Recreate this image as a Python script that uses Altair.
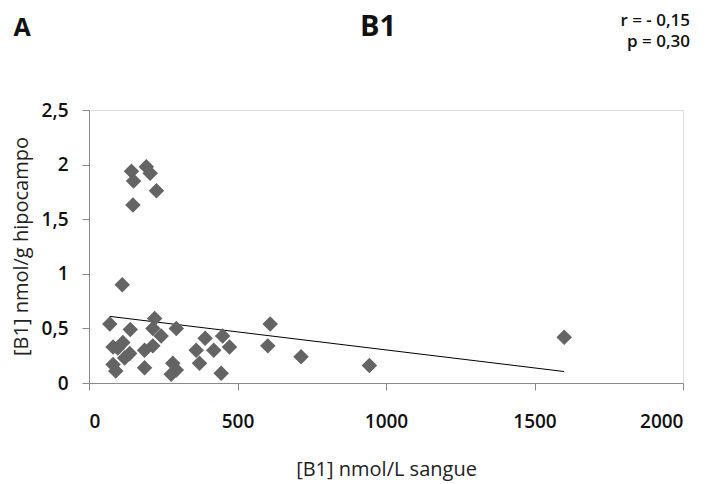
import altair as alt
import pandas as pd

# Scatter points: [B1] blood (nmol/L) vs [B1] hippocampus (nmol/g)
sangue = [70, 143, 150, 193, 206, 227, 148, 112, 139, 221, 215, 294, 243,
          81, 97, 114, 137, 120, 187, 215, 81, 90, 187, 282, 294, 277,
          361, 391, 420, 372, 450, 473, 445, 610, 602, 714, 944, 1600]
hipocampo = [0.54, 1.94, 1.85, 1.98, 1.92, 1.76, 1.63, 0.90, 0.49, 0.59, 0.50, 0.50, 0.43,
             0.33, 0.32, 0.37, 0.27, 0.23, 0.30, 0.34, 0.17, 0.11, 0.14, 0.18, 0.12, 0.08,
             0.30, 0.41, 0.30, 0.18, 0.43, 0.33, 0.09, 0.54, 0.34, 0.24, 0.16, 0.42]

# Trend line endpoints
trend_x = [70, 1600]
trend_y = [0.61, 0.105]

x_ticks = [0, 500, 1000, 1500, 2000]
y_ticks = [0, 0.5, 1, 1.5, 2, 2.5]

title_text = ["B1"]
panel_text = ["A"]
r_text = ["r = - 0,15"]
p_text = ["p = 0,30"]

FONT = "Open Sans"

pts = pd.DataFrame({"x": sangue, "y": hipocampo})
trend = pd.DataFrame({"x": trend_x, "y": trend_y})

xscale = alt.Scale(domain=[0, 2000], nice=False)
yscale = alt.Scale(domain=[0, 2.5], nice=False)

xaxis = alt.Axis(values=x_ticks, grid=False, domainColor="#8a8a8a", tickColor="#8a8a8a",
                 tickSize=7, labelFont=FONT, labelFontSize=19, labelFontWeight=600,
                 labelColor="#111", labelPadding=22, format="d",
                 title="[B1] nmol/L sangue", titleFont=FONT, titleFontSize=20,
                 titleFontWeight="normal", titleColor="#222", titleX=297, titleY=86,
                 titleBaseline="middle", titleAlign="center")
yaxis = alt.Axis(values=y_ticks, grid=False, domainColor="#8a8a8a", tickColor="#8a8a8a",
                 tickSize=7, labelFont=FONT, labelFontSize=19, labelFontWeight=600,
                 labelColor="#111", labelPadding=14,
                 labelExpr="replace(toString(datum.value), '.', ',')",
                 title="[B1] nmol/g hipocampo", titleFont=FONT, titleFontSize=20,
                 titleFontWeight="normal", titleColor="#222", titleX=-68, titleY=136,
                 titleBaseline="middle", titleAlign="center", titleAngle=-90)

points = alt.Chart(pts).mark_point(shape="diamond", filled=True, size=240,
                                   color="#646464", opacity=1).encode(
    x=alt.X("x:Q", scale=xscale, axis=xaxis),
    y=alt.Y("y:Q", scale=yscale, axis=yaxis),
)

line = alt.Chart(trend).mark_line(color="#000000", strokeWidth=1).encode(
    x=alt.X("x:Q", scale=xscale),
    y=alt.Y("y:Q", scale=yscale),
)


def label(texts, size, weight, x, y, align="center"):
    return alt.Chart(pd.DataFrame({"t": texts})).mark_text(
        font=FONT, fontSize=size, fontWeight=weight, color="#111",
        baseline="middle", align=align
    ).encode(text="t:N", x=alt.value(x), y=alt.value(y))


title = label(title_text, 29, "bold", 289, -83)
panel = label(panel_text, 25, "bold", -67, -82)
rlab = label(r_text, 17, 600, 601, -89, "right")
plab = label(p_text, 17, 600, 601, -68, "right")

chart = alt.layer(line, points, title, panel, rlab, plab).properties(
    width=594, height=273,
    autosize=alt.AutoSizeParams(type="none"),
    padding={"left": 81, "top": 102, "right": 19, "bottom": 99},
).configure_view(stroke=None).configure(background="white")

chart.save("out.html", embed_options={"renderer": "svg", "actions": False})
